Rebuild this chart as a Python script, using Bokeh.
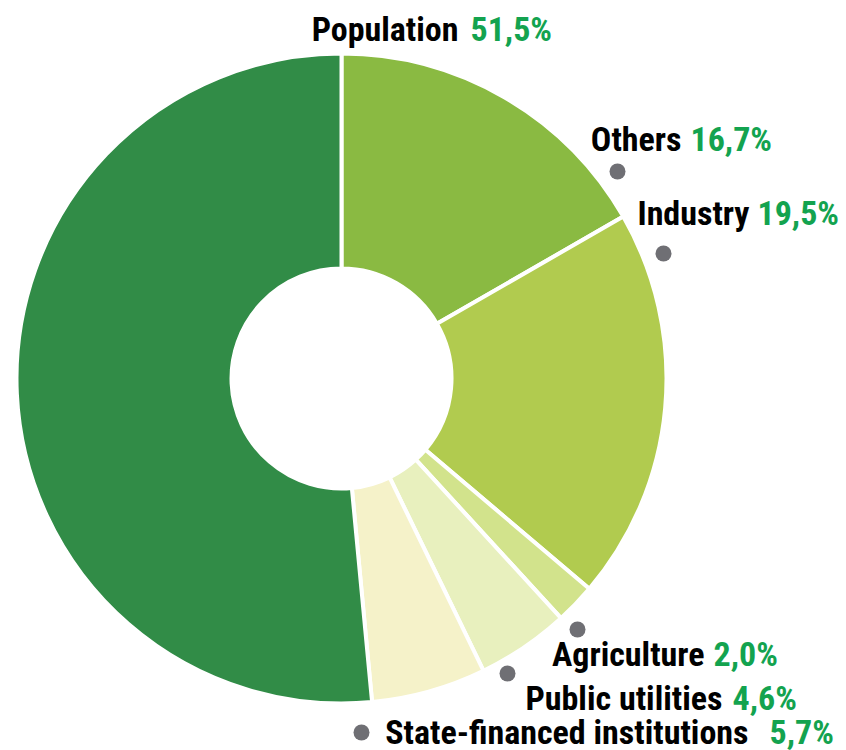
import numpy as np
from bokeh.plotting import figure
from bokeh.models import Range1d, ColumnDataSource
from bokeh.core.properties import value
from bokeh.embed import file_html
from bokeh.resources import INLINE

# ---- data ----
categories = ["Others", "Industry", "Agriculture", "Public utilities",
              "State-financed institutions", "Population"]
shares = [16.7, 19.5, 2.0, 4.6, 5.7, 51.5]
share_labels = ["16,7%", "19,5%", "2,0%", "4,6%", "5,7%", "51,5%"]

# ---- styles / layout ----
colors = ["#8aba42", "#b1cb4f", "#d2e38c", "#e8f0be", "#f5f2c9", "#318c47"]
GREEN = "#13a34f"
FONT = value("Roboto Condensed")
FSIZE = "34px"
TEXT_SHIFT = 10  # rendered baseline sits lower than requested

W, H = 846, 750

def Y(yimg):
    return H - yimg

p = figure(width=W, height=H, x_range=Range1d(0, W), y_range=Range1d(0, H),
           output_backend="svg", toolbar_location=None, min_border=0)
p.axis.visible = False
p.grid.visible = False
p.outline_line_color = None
p.background_fill_color = "white"
p.border_fill_color = "white"

cx, cy = 341, Y(378)
frac = np.array(shares) / np.sum(shares)
cum = np.concatenate([[0.0], np.cumsum(frac)])
theta1 = cum[:-1] * 2 * np.pi   # clockwise from 12 o'clock
theta2 = cum[1:] * 2 * np.pi
src = ColumnDataSource(dict(
    cat=categories,
    start=np.pi / 2 - theta2,
    end=np.pi / 2 - theta1,
    color=colors,
))
p.annular_wedge(x=cx, y=cy, inner_radius=110, outer_radius=325,
                start_angle="start", end_angle="end", source=src,
                fill_color="color", line_color="white", line_width=4)

# label layout (image pixel coordinates)
name_right = [681, 749, 704, 722, 748, 458]
pct_left = [690, 757, 713, 732, 769, 470]
base_y = [148, 222, 663, 707, 741, 38]
dot_x = [617, 663, 577, 507, 361]
dot_y = [171, 253, 629, 673, 732]

lab = ColumnDataSource(dict(
    name=categories, pct=share_labels,
    xn=name_right, xp=pct_left, y=[Y(v - TEXT_SHIFT) for v in base_y],
))
p.text(x="xn", y="y", text="name", source=lab, text_align="right",
       text_baseline="alphabetic", text_font=FONT, text_font_style="bold",
       text_font_size=FSIZE, text_color="black")
p.text(x="xp", y="y", text="pct", source=lab, text_align="left",
       text_baseline="alphabetic", text_font=FONT, text_font_style="bold",
       text_font_size=FSIZE, text_color=GREEN)

p.circle(x=dot_x, y=[Y(v) for v in dot_y], radius=8,
         fill_color="#6f6f74", line_color=None)

open("out.html", "w").write(file_html(p, INLINE))
